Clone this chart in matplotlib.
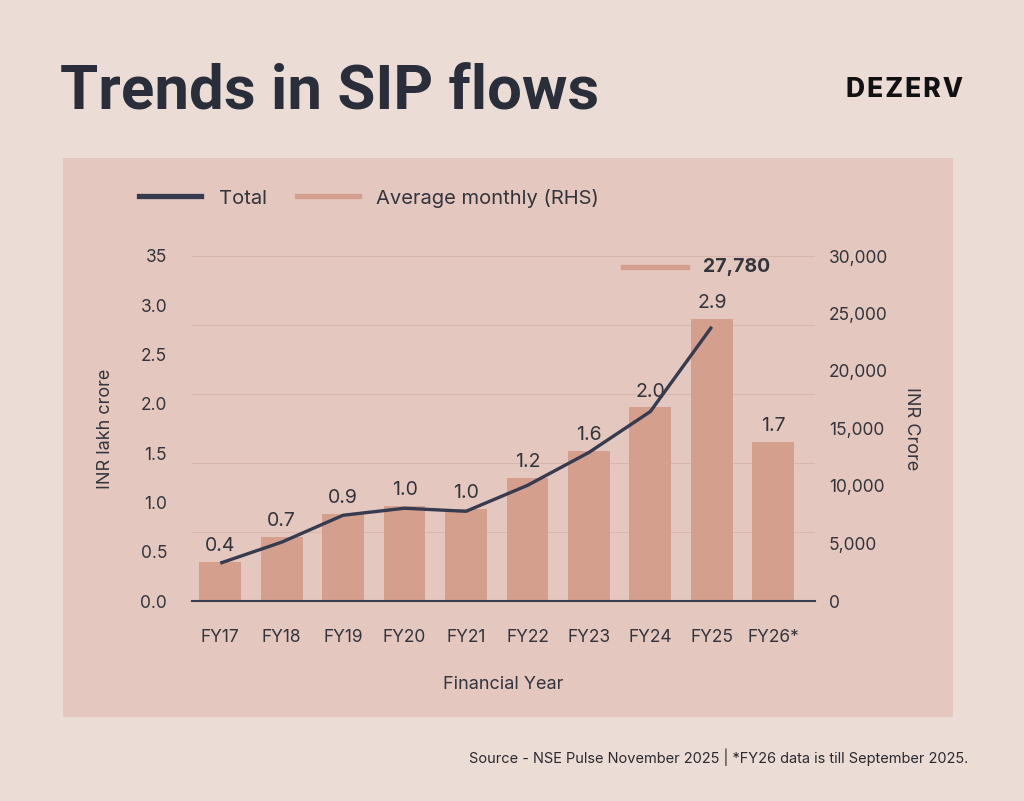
import matplotlib
matplotlib.use("Agg")
import matplotlib.pyplot as plt
import numpy as np
from matplotlib.lines import Line2D
from matplotlib.patches import Rectangle
from matplotlib.ticker import FuncFormatter

plt.rcParams["font.family"] = ["Inter", "DejaVu Sans"]

# data
years = ["FY17", "FY18", "FY19", "FY20", "FY21", "FY22", "FY23", "FY24", "FY25", "FY26*"]
avg_monthly = [3380, 5550, 7545, 8240, 7980, 10670, 13010, 16830, 24540, 13790]   # INR crore (RHS)
total = [0.384, 0.597, 0.870, 0.941, 0.910, 1.173, 1.507, 1.922, 2.782]          # INR lakh crore, FY17-FY25
bar_labels = ["0.4", "0.7", "0.9", "1.0", "1.0", "1.2", "1.6", "2.0", "2.9", "1.7"]
left_ticks = [0.0, 0.5, 1.0, 1.5, 2.0, 2.5, 3.0, 3.5]
left_ticklabels = ["0.0", "0.5", "1.0", "1.5", "2.0", "2.5", "3.0", "35"]
right_ticks = [0, 5000, 10000, 15000, 20000, 25000, 30000]
peak_label = "27,780"

BG = "#ecdcd6"
PANEL = "#e4c7be"
BAR = "#d49f8d"
LINE = "#363b50"
TEXT = "#34343c"
GRID = "#d7b7ad"

W, H = 1024, 801
fig = plt.figure(figsize=(W / 100, H / 100), dpi=100, facecolor=BG)

def fx(px):
    return px / W

def fy(py):
    return 1 - py / H

# inner panel
fig.add_artist(Rectangle((fx(63), fy(717)), fx(953) - fx(63), fy(158) - fy(717),
                         transform=fig.transFigure, facecolor=PANEL, edgecolor="none", zorder=0))

# title and brand
fig.text(fx(60), fy(93), "Trends in SIP flows", fontsize=44.5, fontweight="bold",
         family=["Roboto", "DejaVu Sans"], color="#2a2d3a", va="center", ha="left")
fig.text(fx(963), fy(90), "\u200a".join("DEZERV"), fontsize=19, fontweight="heavy",
         color="#111111", va="center", ha="right")

ax = fig.add_axes([fx(192), fy(601), fx(815) - fx(192), fy(256) - fy(601)])
ax.set_facecolor("none")
axl = ax.twinx()
x = np.arange(len(years))

# bars (average monthly) on the right-hand scale
ax.bar(x, avg_monthly, width=0.68, color=BAR, zorder=2)
ax.set_ylim(0, 30000)
ax.set_xlim(-0.46, len(years) - 1 + 0.68)
for yv in np.linspace(0, 30000, 6)[1:]:
    ax.axhline(yv, color=GRID, lw=0.8, zorder=1)

ax.yaxis.tick_right()
ax.set_yticks(right_ticks)
ax.yaxis.set_major_formatter(FuncFormatter(lambda v, p: f"{int(v):,}"))
ax.tick_params(axis="y", length=0, pad=10, labelsize=12.5, labelcolor=TEXT)
ax.set_xticks(x)
ax.set_xticklabels(years)
ax.tick_params(axis="x", length=0, pad=20, labelsize=12.5, labelcolor=TEXT)
for s in ["top", "left", "right"]:
    ax.spines[s].set_visible(False)
ax.spines["bottom"].set_color("#3a3d4d")
ax.spines["bottom"].set_linewidth(1.5)
ax.spines["bottom"].set_zorder(4)

for xi, v, lab in zip(x, avg_monthly, bar_labels):
    ax.annotate(lab, (xi, v), xytext=(0, 5), textcoords="offset points",
                ha="center", va="bottom", fontsize=14, color=TEXT, zorder=5)

ax.set_xlabel("Financial Year", fontsize=13, color=TEXT, labelpad=22)
ax.yaxis.set_label_position("right")
ax.set_ylabel("INR Crore", fontsize=13, color=TEXT, rotation=270, labelpad=23)

# line (total) on the left-hand scale
axl.plot(x[:len(total)], total, color=LINE, lw=2.4, zorder=3, solid_capstyle="butt")
axl.set_ylim(0, 3.5)
axl.yaxis.tick_left()
axl.yaxis.set_label_position("left")
axl.set_yticks(left_ticks)
axl.set_yticklabels(left_ticklabels)
axl.tick_params(axis="y", length=0, pad=18, labelsize=12.5, labelcolor=TEXT)
for s in axl.spines.values():
    s.set_visible(False)
axl.set_ylabel("INR lakh crore", fontsize=13, color=TEXT, labelpad=19)

# legend
handles = [Line2D([], [], color=LINE, lw=3.8), Line2D([], [], color=BAR, lw=3.8)]
fig.legend(handles, ["Total", "Average monthly (RHS)"], loc="center left",
           bbox_to_anchor=(fx(139), fy(198)), ncol=2, frameon=False, fontsize=14.5,
           handlelength=3.1, handletextpad=0.85, columnspacing=1.5,
           borderaxespad=0, borderpad=0, labelcolor=TEXT)

# peak annotation
fig.add_artist(Line2D([fx(623), fx(687)], [fy(267), fy(267)], transform=fig.transFigure,
                      color=BAR, lw=3.8))
fig.text(fx(703), fy(267), peak_label, fontsize=14, fontweight="bold", color=TEXT,
         va="center", ha="left")

fig.text(fx(968), fy(757), "Source - NSE Pulse November 2025 | *FY26 data is till September 2025.",
         fontsize=10.5, color="#2a2a30", ha="right", va="center")

fig.savefig("out.png", dpi=100, facecolor=BG)
